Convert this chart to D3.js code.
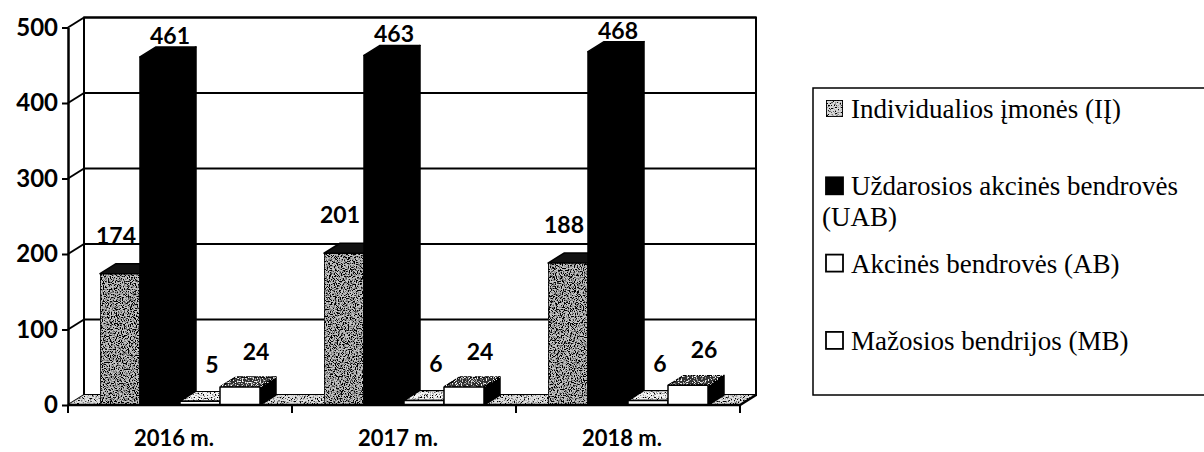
<!DOCTYPE html>
<html>
<head>
<meta charset="utf-8">
<script src="https://cdn.jsdelivr.net/npm/d3@7"></script>
<style>
  body { margin: 0; background: #fff; }
  svg { display: block; }
</style>
</head>
<body>
<script>
// values
const years = ["2016 m.", "2017 m.", "2018 m."];
const seriesKeys = ["IĮ", "UAB", "AB", "MB"];
const valuesII = [174, 201, 188];
const valuesUAB = [461, 463, 468];
const valuesAB = [5, 6, 6];
const valuesMB = [24, 24, 26];
const yTicks = [0, 100, 200, 300, 400, 500];
const legendLines = [
  ["Individualios įmonės (IĮ)"],
  ["Uždarosios akcinės bendrovės", "(UAB)"],
  ["Akcinės bendrovės (AB)"],
  ["Mažosios bendrijos (MB)"]
];

const seriesValues = [valuesII, valuesUAB, valuesAB, valuesMB];
const W = 1204, H = 452;
const dx = 16, dy = -10; // 3d depth offset

const svg = d3.select("body").append("svg")
    .attr("width", W)
    .attr("height", H);

// grain filters to imitate the scanned textures
const defs = svg.append("defs");
function grain(id, dotColor, freq, k, b, seed) {
  const f = defs.append("filter").attr("id", id)
      .attr("x", 0).attr("y", 0).attr("width", 1).attr("height", 1);
  f.append("feTurbulence").attr("type", "fractalNoise")
      .attr("baseFrequency", freq).attr("numOctaves", 2).attr("seed", seed).attr("result", "n");
  const c = d3.color(dotColor);
  f.append("feColorMatrix").attr("in", "n").attr("type", "matrix")
      .attr("values", `0 0 0 0 ${c.r / 255} 0 0 0 0 ${c.g / 255} 0 0 0 0 ${c.b / 255} ${k} 0 0 0 ${b}`)
      .attr("result", "dots");
  f.append("feComposite").attr("in", "dots").attr("in2", "SourceGraphic")
      .attr("operator", "in").attr("result", "d");
  const m = f.append("feMerge");
  m.append("feMergeNode").attr("in", "SourceGraphic");
  m.append("feMergeNode").attr("in", "d");
}
grain("grayGrain", "#000", 0.85, 6, -2.6, 3);
grain("floorGrain", "#000", 0.7, 6, -3.0, 7);
grain("whiteGrain", "#fff", 0.8, 6, -3.2, 5);

const x = d3.scaleBand().domain(years).range([68, 740]);
const xs = d3.scaleBand().domain(seriesKeys).range([32, x.bandwidth() - 32]);
const y = d3.scaleLinear().domain([0, 500]).range([405, 27.5]);
const x0 = x.range()[0], x1 = x.range()[1];
const y0 = y(0);

// back wall
svg.append("rect")
    .attr("x", x0 + dx).attr("y", y(500) + dy)
    .attr("width", x1 - x0).attr("height", y0 - y(500))
    .attr("fill", "#fff").attr("stroke", "#000").attr("stroke-width", 2);

// gridlines on back wall + side wall diagonals
const grid = svg.append("g").attr("stroke", "#000").attr("stroke-width", 2);
grid.selectAll("line.g").data(yTicks.filter(d => d > 0)).join("line")
    .attr("x1", x0 + dx).attr("x2", x1 + dx)
    .attr("y1", d => y(d) + dy).attr("y2", d => y(d) + dy);
grid.selectAll("line.s").data(yTicks).join("line")
    .attr("x1", x0).attr("x2", x0 + dx)
    .attr("y1", d => y(d)).attr("y2", d => y(d) + dy);

// floor
svg.append("path")
    .attr("d", `M${x0},${y0}L${x1},${y0}L${x1 + dx},${y0 + dy}L${x0 + dx},${y0 + dy}Z`)
    .attr("fill", "#e0e0e0")
    .attr("filter", "url(#floorGrain)");

// face styles per series, plus where excel put the value label
const faces = [
  { front: "#c4c4c4", frontF: "url(#grayGrain)", top: "#111", topF: null, side: "#000", lx: -4, ly: -20 },
  { front: "#000", frontF: null, top: "#000", topF: null, side: "#000", lx: 10, ly: -3 },
  { front: "#fff", frontF: null, top: "#f4f4f4", topF: "url(#floorGrain)", side: "#000", lx: 12, ly: -18 },
  { front: "#fff", frontF: null, top: "#333", topF: "url(#whiteGrain)", side: "#000", lx: 16, ly: -17 }
];

const bars = [];
years.forEach((yr, i) => {
  seriesKeys.forEach((k, j) => {
    bars.push({ yr, k, j, v: seriesValues[j][i] });
  });
});

const w = xs.bandwidth();
const barG = svg.append("g");
bars.forEach(b => {
  const bx = x(b.yr) + xs(b.k);
  const yt = y(b.v);
  const f = faces[b.j];
  const g = barG.append("g").attr("stroke", "#000").attr("stroke-width", 1.5).attr("stroke-linejoin", "round");
  g.append("path")
      .attr("d", `M${bx + w},${yt}L${bx + w + dx},${yt + dy}L${bx + w + dx},${y0 + dy}L${bx + w},${y0}Z`)
      .attr("fill", f.side);
  g.append("path")
      .attr("d", `M${bx},${yt}L${bx + dx},${yt + dy}L${bx + w + dx},${yt + dy}L${bx + w},${yt}Z`)
      .attr("fill", f.top)
      .attr("filter", f.topF);
  g.append("rect")
      .attr("x", bx).attr("y", yt)
      .attr("width", w).attr("height", y0 - yt)
      .attr("fill", f.front)
      .attr("filter", f.frontF);
});

// floor front edge and right edge
svg.append("path")
    .attr("d", `M${x0},${y0}L${x1},${y0}L${x1 + dx},${y0 + dy}`)
    .attr("fill", "none").attr("stroke", "#000").attr("stroke-width", 2.5);

// category ticks
svg.append("g").selectAll("line")
    .data(years.map(d => x(d)).concat([x1]))
    .join("line")
    .attr("x1", d => d).attr("x2", d => d)
    .attr("y1", y0).attr("y2", y0 + 8)
    .attr("stroke", "#000").attr("stroke-width", 2);

// y axis
const yAxis = svg.append("g")
    .attr("transform", `translate(${x0},0)`)
    .call(d3.axisLeft(y).tickValues(yTicks).tickSize(6).tickSizeOuter(0).tickPadding(4));
yAxis.select(".domain").attr("stroke-width", 2.5);
yAxis.selectAll(".tick line").attr("stroke-width", 2);
yAxis.selectAll("text")
    .attr("font-family", "Lato, 'Open Sans', sans-serif")
    .attr("font-weight", 700)
    .attr("font-size", 24)
    .attr("fill", "#000");

// data labels
svg.append("g").selectAll("text").data(bars).join("text")
    .attr("x", d => x(d.yr) + xs(d.k) + w / 2 + faces[d.j].lx)
    .attr("y", d => y(d.v) + dy + faces[d.j].ly)
    .attr("text-anchor", "middle")
    .attr("font-family", "Lato, 'Open Sans', sans-serif")
    .attr("font-weight", 700)
    .attr("font-size", 23)
    .text(d => d.v);

// category labels
svg.append("g").selectAll("text").data(years).join("text")
    .attr("x", d => x(d) + x.bandwidth() / 2 - 6)
    .attr("y", 446)
    .attr("text-anchor", "middle")
    .attr("font-family", "Lato, 'Open Sans', sans-serif")
    .attr("font-weight", 700)
    .attr("font-size", 22)
    .text(d => d);

// legend
const lg = svg.append("g");
lg.append("rect")
    .attr("x", 813).attr("y", 88)
    .attr("width", 420).attr("height", 307)
    .attr("fill", "#fff").attr("stroke", "#000").attr("stroke-width", 1.5);
const swFill = ["#d8d8d8", "#000", "#fff", "#fff"];
legendLines.forEach((lines, i) => {
  const base = 118 + i * 77.3;
  lg.append("rect")
      .attr("x", 826).attr("y", base - 18)
      .attr("width", 17).attr("height", 17)
      .attr("fill", swFill[i])
      .attr("filter", i === 0 ? "url(#floorGrain)" : null)
      .attr("stroke", "#000").attr("stroke-width", 1.8);
  const t = lg.append("text")
      .attr("font-family", "'Liberation Serif', 'Times New Roman', serif")
      .attr("font-size", 27)
      .attr("fill", "#000");
  lines.forEach((ln, li) => {
    t.append("tspan")
        .attr("x", li === 0 ? 851 : 822)
        .attr("y", base + li * 31)
        .text(ln);
  });
});
</script>
</body>
</html>
